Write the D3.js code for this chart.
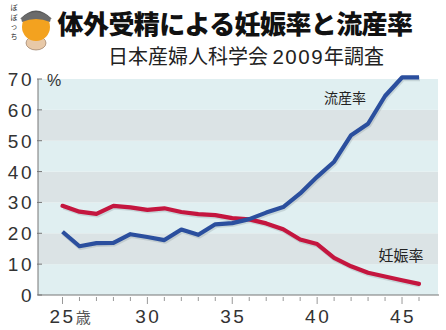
<!DOCTYPE html>
<html><head><meta charset="utf-8">
<script src="https://cdn.jsdelivr.net/npm/d3@7"></script>
<style>
html,body{margin:0;padding:0;background:#fff;}
svg{display:block;}
</style></head>
<body>
<svg id="chart" width="446" height="330"></svg>
<script>
const ages = [25,26,27,28,29,30,31,32,33,34,35,36,37,38,39,40,41,42,43,44,45,46];
const miscarriageRate = [20.5,15.8,16.8,16.9,19.7,18.8,17.8,21.2,19.5,22.9,23.3,24.6,26.7,28.5,32.9,38.3,43.2,51.8,55.5,64.5,70.5,70.5];
const pregnancyRate = [28.9,27.0,26.3,28.9,28.4,27.6,28.1,26.9,26.2,25.9,24.9,24.5,23.2,21.3,18.0,16.5,12.0,9.3,7.2,6.0,4.8,3.6];
const yTicks = [0,10,20,30,40,50,60,70];
const xLabelTicks = [25,30,35,40,45];
const xLabelText = ["25歳","30","35","40","45"];
const seriesNames = ["流産率","妊娠率"];
const titleText = "体外受精による妊娠率と流産率";
const subtitleParts = ["日本産婦人科学会 ","2009","年調査"];

(function(){
const svg = d3.select("#chart");
const pLeft = 38, pRight = 438, pTop = 79, pBottom = 295;
const x = d3.scaleLinear().domain([25,46]).range([62.5,419]);
const y = d3.scaleLinear().domain([0,70]).range([pBottom, pTop]);

// bands
const bands = d3.range(0,70,10);
svg.append("g").selectAll("rect").data(bands).join("rect")
  .attr("x", pLeft).attr("width", pRight-pLeft)
  .attr("y", d=>y(d+10)).attr("height", d=>y(d)-y(d+10))
  .attr("fill", d => (d/10)%2===0 ? "#e0eff1" : "#dbe3e5");

// y axis
svg.append("line").attr("x1",pLeft).attr("x2",pLeft).attr("y1",pTop).attr("y2",pBottom)
  .attr("stroke","#777").attr("stroke-width",1);
svg.append("g").selectAll("line").data(yTicks).join("line")
  .attr("x1",pLeft-1).attr("x2",pLeft+4).attr("y1",d=>y(d)).attr("y2",d=>y(d))
  .attr("stroke","#777");
svg.append("g").selectAll("text").data(yTicks).join("text")
  .attr("x",34).attr("y",d=>y(d)+7)
  .attr("text-anchor","end")
  .attr("font-family","'Liberation Sans', Arial, sans-serif")
  .attr("font-size",19).attr("letter-spacing",2.5)
  .attr("fill","#333").text(d=>d);
svg.append("text").attr("x",47).attr("y",86)
  .attr("font-family","'Liberation Sans', Arial, sans-serif")
  .attr("font-size",16).attr("fill","#333").text("%");

// x axis
svg.append("line").attr("x1",pLeft).attr("x2",pRight+1).attr("y1",pBottom).attr("y2",pBottom)
  .attr("stroke","#777").attr("stroke-width",1);
svg.append("g").selectAll("line").data(ages).join("line")
  .attr("x1",d=>x(d)).attr("x2",d=>x(d))
  .attr("y1",pBottom+2).attr("y2",d=> d%5===0 ? pBottom+9 : pBottom+6)
  .attr("stroke","#999");
svg.append("g").selectAll("text").data(xLabelTicks).join("text")
  .attr("x",(d,i)=> i===0 ? x(d)-13 : x(d)+1)
  .attr("y",323)
  .attr("text-anchor",(d,i)=> i===0 ? "start" : "middle")
  .attr("font-family","'Liberation Sans', 'Noto Sans CJK JP', sans-serif")
  .attr("font-size",19).attr("letter-spacing",2.5)
  .attr("fill","#333")
  .each(function(d,i){
    const t = d3.select(this);
    const s = xLabelText[i];
    const digits = s.replace(/[^0-9]/g,"");
    const rest = s.replace(/[0-9]/g,"");
    t.append("tspan").text(digits);
    if(rest) t.append("tspan").attr("font-family","'Noto Sans CJK JP', sans-serif").attr("font-size",15).attr("letter-spacing",0).attr("fill","#555").text(rest);
  });

// lines
const line = d3.line().x((d,i)=>x(ages[i])).y(d=>y(d));
const shadow = svg.append("g").attr("opacity",0.25);
shadow.append("path").datum(pregnancyRate).attr("d",line).attr("transform","translate(1,1.5)")
  .attr("fill","none").attr("stroke","#7a8a90").attr("stroke-width",4.5).attr("stroke-linejoin","round");
shadow.append("path").datum(miscarriageRate).attr("d",line).attr("transform","translate(1,1.5)")
  .attr("fill","none").attr("stroke","#7a8a90").attr("stroke-width",4.5).attr("stroke-linejoin","round");
svg.append("path").datum(pregnancyRate).attr("d",line)
  .attr("fill","none").attr("stroke","#c4163f").attr("stroke-width",4.2).attr("stroke-linejoin","round").attr("stroke-linecap","round");
svg.append("path").datum(miscarriageRate).attr("d",line)
  .attr("fill","none").attr("stroke","#2b4f9e").attr("stroke-width",4.2).attr("stroke-linejoin","round").attr("stroke-linecap","butt");

// series labels
svg.append("text").attr("x",345).attr("y",103).attr("text-anchor","middle")
  .attr("font-family","'Noto Sans CJK JP', sans-serif").attr("font-size",14)
  .attr("fill","#222").text(seriesNames[0]);
svg.append("text").attr("x",401).attr("y",261).attr("text-anchor","middle")
  .attr("font-family","'Noto Sans CJK JP', sans-serif").attr("font-size",15)
  .attr("fill","#222").text(seriesNames[1]);

// title
svg.append("text").attr("x",235).attr("y",34).attr("text-anchor","middle")
  .attr("font-family","'Noto Sans CJK JP', sans-serif").attr("font-weight",900)
  .attr("font-size",26).attr("letter-spacing",-0.6)
  .attr("fill","#111").text(titleText);
const sub = svg.append("text").attr("x",246).attr("y",64).attr("text-anchor","middle")
  .attr("font-family","'Noto Sans CJK JP', sans-serif").attr("font-weight",400)
  .attr("font-size",20)
  .attr("fill","#222");
sub.append("tspan").text(subtitleParts[0]);
sub.append("tspan").attr("font-family","'Liberation Sans', Arial, sans-serif").attr("font-size",20.5).attr("letter-spacing",1.5).text(subtitleParts[1]);
sub.append("tspan").text(subtitleParts[2]);

// logo
const logo = svg.append("g");
logo.append("ellipse").attr("cx",36).attr("cy",43).attr("rx",10).attr("ry",7).attr("fill","#e8c9a8").attr("stroke","#8a6a50").attr("stroke-width",0.6);
logo.append("circle").attr("cx",36).attr("cy",27).attr("r",14).attr("fill","#f3a21f");
logo.append("path").attr("d","M20,19 Q36,2 52,19 Q36,13 20,19 Z").attr("fill","#5a5a5a");
logo.append("path").attr("d","M21,18 Q36,6 51,18 L50,22 Q36,16 22,22 Z").attr("fill","#6b6b6b");
const kana = ["ぼ","ぼ","っ","ち"];
logo.append("g").selectAll("text").data(kana).join("text")
  .attr("x",14).attr("y",(d,i)=>10+i*9.5).attr("text-anchor","middle")
  .attr("font-family","'Noto Sans CJK JP', sans-serif").attr("font-size",7)
  .attr("fill","#333").text(d=>d);
})();
</script>
</body></html>
